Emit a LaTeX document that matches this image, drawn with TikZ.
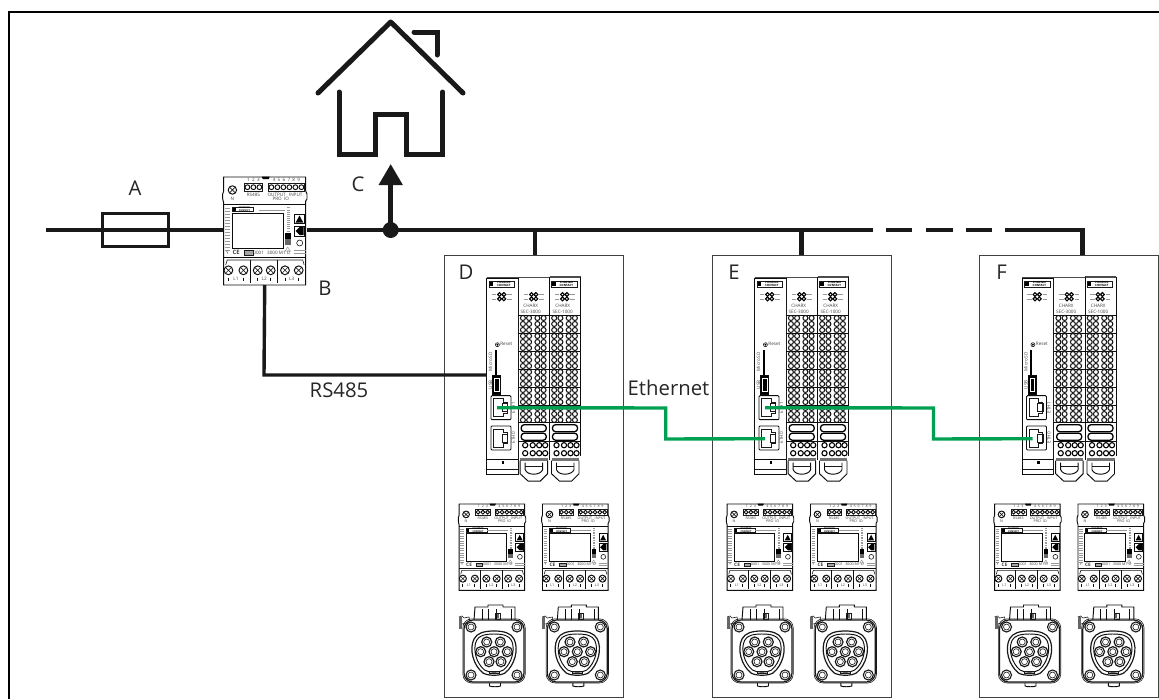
\documentclass[tikz,border=0pt]{standalone}
\usepackage{fontspec}
\setmainfont{Open Sans}
\usepackage{xcolor}
\usepackage{tikz}
\usetikzlibrary{arrows.meta}
\usetikzlibrary{positioning}

\definecolor{ethgreen}{RGB}{0,160,80}

% Small text on the devices
\newcommand{\tinyfont}{\fontsize{4.6}{5}\selectfont}

\tikzset{
  pics/terminalrow/.style={code={
    \foreach \cx in {4.7,10.9,19.2,25.4} {
      \foreach \cy in {3,9,15} {
        \draw[line width=1.05pt, draw=black!90] (\cx,\cy) circle (2.5);
      }
    }
  }},
  pics/ledcluster/.style={code={
    \foreach \cx in {-2.2,2.2} {
      \foreach \cy in {-2.2,2.2} {
        \draw[line width=1.1pt, draw=black] (\cx,\cy) circle (1.9);
      }
    }
    \draw[devfaint] (-10,-2.2) -- (-5.5,-2.2) (-10,2.2) -- (-5.5,2.2) (5.5,-2.2) -- (10,-2.2) (5.5,2.2) -- (10,2.2);
  }},
  pics/phoenixlogo/.style={code={
    \draw[devline] (0,0) rectangle (25.5,5.6);
    \fill[black] (.7,.7) rectangle (4,4.9);
    \node[devtext, font=\fontsize{2.9}{2.9}\selectfont\bfseries, text=black, align=center] (-logo) at (14.7,2.8) {PHOENIX\\CONTACT};
  }},
  pics/rjport/.style={code={
    \draw[devthick, rounded corners=1] (0,0) rectangle (20,24);
    \draw[devline] (2.5,3) -- (12,3) -- (12,6.5) -- (16,6.5) -- (16,17.5) -- (12,17.5) -- (12,21) -- (2.5,21) -- cycle;
    \draw[devline] (11,8) rectangle (16.5,16);
  }},
  % Charging controller with two extension modules
  pics/controller/.style={code={
    \coordinate (-rs) at (0,98);
    \coordinate (-ethone) at (10.5,131);
    \coordinate (-ethzero) at (10.5,162);
    \draw[devthick, fill=white] (0,2) -- (0,198) -- (31.5,198) -- (31.5,2) -- cycle;
    \draw[line width=1.2pt, draw=black!70] (0,1) -- (62.8,1);
    \draw[line width=1.5pt, draw=black!70] (62.8,.5) -- (93.8,.5);
    \draw[devthick] (62.8,0) -- (62.8,183);
    \draw[devthick] (93.8,0) -- (93.8,179);
    \draw[devline] (31.5,2) -- (31.5,183);
    % Logos and type labels
    \pic (-loga) at (2.5,4.5) {phoenixlogo};
    \pic (-logb) at (65,4.5) {phoenixlogo};
    \pic at (15,20) {ledcluster};
    \pic at (47,20) {ledcluster};
    \pic at (78,20) {ledcluster};
    \node[devtext] (-typea) at (44,29.5) {CHARX};
    \node[devtext] (-seca) at (44,35) {SEC-3000};
    \node[devtext] (-typeb) at (76,29.5) {CHARX};
    \node[devtext] (-secb) at (76,35) {SEC-1000};
    % Terminal blocks
    \foreach \mx in {31.5,62.8} {
      \foreach \ty in {38.3,56.3,74.3,92.3,110.3,128.3} {
        \draw[devthick] (\mx,\ty) -- (\mx+31,\ty);
        \pic at (\mx,\ty) {terminalrow};
      }
      \draw[devthick] (\mx,146) -- (\mx+31,146) (\mx,165) -- (\mx+31,165);
      \draw[line width=1.3pt, draw=black, rounded corners=3] (\mx+3,148) rectangle (\mx+28,155);
      \draw[line width=1.3pt, draw=black, rounded corners=3] (\mx+3,156.5) rectangle (\mx+28,163.5);
      \foreach \cx in {7,14.5,21,27} {
        \draw[line width=1.1pt, draw=black] (\mx+\cx,168.5) circle (2.6);
        \draw[line width=1.1pt, draw=black] (\mx+\cx,176.5) circle (2.6);
      }
      \fill[black!55] (\mx+2,181) rectangle (\mx+29.5,184);
      % Latch
      \draw[devthick] (\mx+2,184) -- (\mx+2,197) -- (\mx+10,204.5) -- (\mx+22,204.5) -- (\mx+29.5,197) -- (\mx+29.5,184);
      \draw[devthick] (\mx+7,186) -- (\mx+7,193) .. controls (\mx+9,199) and (\mx+22,199) .. (\mx+24.5,193) -- (\mx+24.5,186);
      \draw[devline] (\mx+7,190) -- (\mx+24.5,190);
    }
    % Front of the head module
    \draw[devline] (10.7,68) circle (2);
    \fill[black] (10.7,68) circle (1.1);
    \node[devtext, anchor=west] (-reset) at (13.5,67.5) {Reset};
    \fill[black] (7.8,73) rectangle (10.2,99);
    \node[devtext, rotate=90] (-sd) at (3.7,85) {Micro SD};
    \draw[devthick, fill=black] (6.2,99) rectangle (14.2,118);
    \draw[white, line width=.5] (8,102) rectangle (12.5,115);
    \node[devtext, rotate=90] (-usb) at (3.7,108) {USB};
    \pic at (4.3,119) {rjport};
    \pic at (4.3,149.3) {rjport};
    \node[devtext, rotate=90] (-etha) at (26.8,131) {ETH1};
    \node[devtext, rotate=90] (-ethb) at (26.8,161) {ETH0};
    % Foot
    \draw[devthick] (0,183) -- (31.5,183);
    \draw[devline] (.5,192.8) -- (31,192.8);
    \draw[devline] (31.5,183) -- (31.5,198);
    \fill[black] (14.8,184.5) rectangle (17.3,187);
  }},
  % Energy meter, drawn at full size and scaled down in the units
  pics/meter/.style={code={
    \coordinate (-bus) at (42,108);
    \draw[devthick, fill=white] (1,0) -- (83,0) -- (83,14) -- (84.3,17) -- (84.3,22) -- (83,24) -- (83,108) -- (1,108) -- (1,26) -- (0,22) -- (0,17) -- (1,14) -- cycle;
    \fill[black] (39,-.5) -- (47,-.5) -- (46,2) -- (40,2) -- cycle;
    \draw[devthick] (1,27.5) -- (83,27.5);
    \draw[devthick] (1,80) -- (83,80);
    % Upper terminals
    \draw[devthick] (9.7,13) circle (4.2);
    \draw[devline] (6.7,10) -- (12.7,16) (6.7,16) -- (12.7,10);
    \draw[devline] (21.7,6.2) rectangle (40,14.2);
    \draw[devline] (45.7,6.2) rectangle (81.5,14.2);
    \foreach \cx in {24.7,30.7,36.7,48.7,54.7,60.7,66.7,72.7,78.7} {
      \draw[devthick] (\cx,10.2) circle (2.4);
    }
    \node[devtext] (-nums) at (30.7,3.2) {1\,\,\,2\,\,\,3};
    \node[devtext] (-numb) at (63.7,3.2) {4\,\,\,5\,\,\,6\,\,\,7\,\,\,8\,\,\,9};
    \node[devtext] (-n) at (9.7,21.5) {N};
    \node[devtext] (-rs) at (30.7,17.8) {RS485};
    \node[devtext] (-out) at (54,17.8) {OUTPUT};
    \node[devtext] (-in) at (73,17.8) {INPUT};
    \node[devtext] (-pro) at (58,22) {PRO\,\,\,IO};
    % Display and keys
    \draw[devthick] (9.7,36.7) rectangle (60.7,71.7);
    \pic[scale=.82] (-logo) at (9.7,30) {phoenixlogo};
    \draw[devfaint] (36,33) -- (62,33);
    \foreach \ly in {31,34,...,73} {
      \draw[devfaint] (2.5,\ly) -- (7,\ly);
      \draw[devfaint] (64.5,\ly*.7+9) -- (67,\ly*.7+9);
    }
    \draw[devthick] (72,37) rectangle (81.7,46.7);
    \fill[black] (76.8,38.5) -- (80.5,45.5) -- (73,45.5) -- cycle;
    \draw[devthick] (72,49) rectangle (81.7,59);
    \fill[black] (73,54) -- (77,50) -- (80.8,50) -- (80.8,58) -- (77,58) -- cycle;
    \draw[devline] (77,66) circle (3);
    \fill[black] (62.3,56) rectangle (68,62);
    \fill[black!60] (62.3,62) rectangle (68,68);
    \draw[devfaint] (65,70) -- (62.5,74) -- (67.5,74) -- cycle;
    \node[devtext] (-wye) at (4.7,75.5) {Y};
    \node[devtext, scale=1.3] (-ce) at (13.5,75.5) {\bfseries CE};
    \draw[devline, fill=black!35] (22,73.5) rectangle (30.5,78);
    \node[devtext] (-id) at (36,75.5) {0001};
    \node[devtext] (-mid) at (56,75.5) {3000 M1 D};
    \draw[devfaint] (71,73.5) -- (83,73.5) (71,76.5) -- (83,76.5);
    % Lower terminals
    \draw[devline] (3,88) -- (4.5,83) -- (80,83) -- (81.5,88);
    \draw[devthick] (27.3,83) -- (27.3,106) (55,83) -- (55,106);
    \foreach \cx in {5.7,20.7,35,48,62.3,76} {
      \draw[devthick] (\cx,93.3) circle (4.4);
      \draw[devline] (\cx-3,90.3) -- (\cx+3,96.3) (\cx-3,96.3) -- (\cx+3,90.3);
      \draw[devthick] (\cx,100.5) -- (\cx,104);
    }
    \node[devtext] (-la) at (13.2,101.5) {L1};
    \node[devtext] (-lb) at (41.5,101.5) {L2};
    \node[devtext] (-lc) at (69,101.5) {L3};
  }},
  % Charging socket
  pics/socket/.style={code={
    % Cable housing on top
    \draw[devthick, fill=white] (10,0) -- (11,-13) -- (24,-13) -- (24,-15) -- (39,-15) -- (39,-13) -- (51,-13) -- (51,0);
    \draw[devthick] (18,-11) -- (18,0) (24,-11) -- (24,0) (32,-11) -- (32,0) (47,-11) -- (47,0);
    \draw[devline] (31,-7) rectangle (36,-1);
    \fill[black!60] (32.5,-6) rectangle (34.5,-2);
    % Latch
    \draw[devline] (-5,-3) -- (-2,-4) -- (0,-2) -- (5,-3) -- (6,2) -- (-2,4);
    \fill[black!60] (-5,-3) rectangle (-2,9);
    % Body
    \draw[line width=1.2pt, draw=black!90, fill=white, rounded corners=9] (0,0) rectangle (60,62);
    \draw[devline, rounded corners=9] (-1.2,-1.2) rectangle (61.2,63);
    \draw[devthick] (25.5,63) -- (25.5,66) .. controls (28,67) and (34,67) .. (36.5,66) -- (36.5,63);
    \foreach \cx in {7,53} {
      \foreach \cy in {7,55} {
        \draw[line width=1.1pt, draw=black!90, fill=white] (\cx,\cy) circle (5);
        \draw[devline] (\cx,\cy) circle (3);
      }
    }
    % Contact face
    \draw[line width=1.2pt, draw=black!90, fill=white] (30,11) .. controls (40,11) and (47,13) .. (50,19) .. controls (55,29) and (51,45) .. (41,53) .. controls (36,56) and (24,56) .. (19,53) .. controls (9,45) and (5,29) .. (10,19) .. controls (13,13) and (20,11) .. (30,11) -- cycle;
    \draw[devthick] (30,14) .. controls (39,14) and (45,15.5) .. (47.5,20.5) .. controls (51.5,29) and (48,43) .. (39.5,50) .. controls (35,53) and (25,53) .. (20.5,50) .. controls (12,43) and (8.5,29) .. (12.5,20.5) .. controls (15,15.5) and (21,14) .. (30,14) -- cycle;
    \foreach \cx/\cy in {22.7/22,36.3/22,16.7/31.7,30/31.7,43.3/31.7,25/41.7,37/41.7} {
      \draw[line width=1.2pt, draw=black!90] (\cx,\cy) circle (5);
      \draw[devline] (\cx,\cy) circle (3);
    }
    \draw[devline] (25,51) rectangle (35,53.5);
  }}
}

\begin{document}
\begin{tikzpicture}[
  x=1pt, y=-1pt,
  devline/.style={line width=.6pt, draw=black!90},
  devthick/.style={line width=.95pt, draw=black!95},
  devfaint/.style={line width=.5pt, draw=black!40},
  devtext/.style={font=\tinyfont, text=black!75, inner sep=0pt, transform shape},
  busline/.style={line width=4.9pt, draw=black!90},
  wire/.style={line width=3.4pt, draw=black!90},
  ethwire/.style={line width=3.4pt, draw=ethgreen},
  houseline/.style={line width=5pt, draw=black!90, line cap=round},
  unitbox/.style={rectangle, draw=black!75, line width=1pt, minimum width=179pt, minimum height=442pt, anchor=north west, inner sep=0pt},
  label/.style={font=\fontsize{20.3}{22}\selectfont, text=black!85, inner sep=0pt}
]
\useasboundingbox (0,0) rectangle (1159,699);

% Frame
\coordinate (framebl) at (8.7,699);
\coordinate (frametl) at (8.7,12);
\coordinate (frametr) at (1159,12);
\draw[line width=2.4pt, line cap=butt] (framebl) -- (frametl) -- (frametr);

% House
\coordinate (roofl) at (318,93);
\coordinate (roofa) at (390.7,22);
\coordinate (roofr) at (463,93);
\draw[houseline, line join=round] (roofl) -- (roofa) -- (roofr);
\draw[houseline, line join=miter] (414,32) -- (437,32) -- (437,55);
\draw[houseline, line join=miter] (339,92) -- (339,154) -- (375,154) -- (375,114.7) -- (406.7,114.7) -- (406.7,154) -- (442.7,154) -- (442.7,92);

% Units
\foreach \unitname/\ux in {D/0,E/268,F/535.5} {
  \node[unitbox] (box\unitname) at (443.7+\ux,255) {};
  \node[label] (lbl\unitname) at (466+\ux,272) {\unitname};
  \pic (ctrl\unitname) at (486.7+\ux,276.7) {controller};
  \pic[scale=.8] (metera\unitname) at (458.3+\ux,504) {meter};
  \pic[scale=.8] (meterb\unitname) at (541.7+\ux,504) {meter};
  \pic (sockta\unitname) at (464+\ux,620) {socket};
  \pic (socktb\unitname) at (547.3+\ux,620) {socket};
}

% Main meter and fuse
\pic (meter) at (222.7,177) {meter};
\node[rectangle, draw=black!90, line width=2.6pt, minimum width=66pt, minimum height=33pt, inner sep=0pt] (fuse) at (135.5,230) {};
\node[label] (lblA) at (135,188) {A};
\node[label] (lblB) at (325,288) {B};
\node[label] (lblC) at (358,184) {C};

% Bus
\coordinate (busstart) at (46,230);
\coordinate (meterin) at (222.7,230);
\coordinate (meterout) at (307,230);
\coordinate (junction) at (390.7,230);
\coordinate (tapD) at (535,230);
\coordinate (tapE) at (801.7,230);
\coordinate (gapa) at (873,230);
\coordinate (gapb) at (1005,230);
\coordinate (busend) at (1082.7,230);
\draw[busline] (busstart) -- (meterin);
\draw[busline] (meterout) -- (gapa);
\foreach \dashfrom/\dashto in {886/912,926/952.7,965.7/992} {
  \coordinate (dasha) at (\dashfrom,230);
  \coordinate (dashb) at (\dashto,230);
  \draw[busline] (dasha) -- (dashb);
}
\draw[busline, line join=miter] (gapb) -- (busend) -- (boxF.north -| busend);
\draw[busline] (tapD) -- (boxD.north -| tapD);
\draw[busline] (tapE) -- (boxE.north -| tapE);

% House feed
\fill[black!90] (junction) circle (8);
\coordinate (feedtip) at (390.7,164);
\draw[line width=4.6pt, draw=black!90, -{Triangle[length=21pt, width=23pt]}] (junction) -- (feedtip);

% RS485 link
\coordinate (rsbend) at (264,375);
\draw[wire, line join=miter] (meter-bus) -- (rsbend) -- (ctrlD-rs |- rsbend);
\node[label] (lblrs) at (339,390) {RS485};

% Ethernet links
\coordinate (ethaa) at (665.7,408);
\coordinate (ethab) at (665.7,439);
\coordinate (ethba) at (933.5,408);
\coordinate (ethbb) at (933.5,439);
\draw[ethwire, line join=miter] (ctrlD-ethone) -- (ethaa) -- (ethab) -- (ctrlE-ethzero);
\draw[ethwire, line join=miter] (ctrlE-ethone) -- (ethba) -- (ethbb) -- (ctrlF-ethzero);
\node[label] (lbleth) at (668.5,388) {Ethernet};

\end{tikzpicture}
\end{document}
